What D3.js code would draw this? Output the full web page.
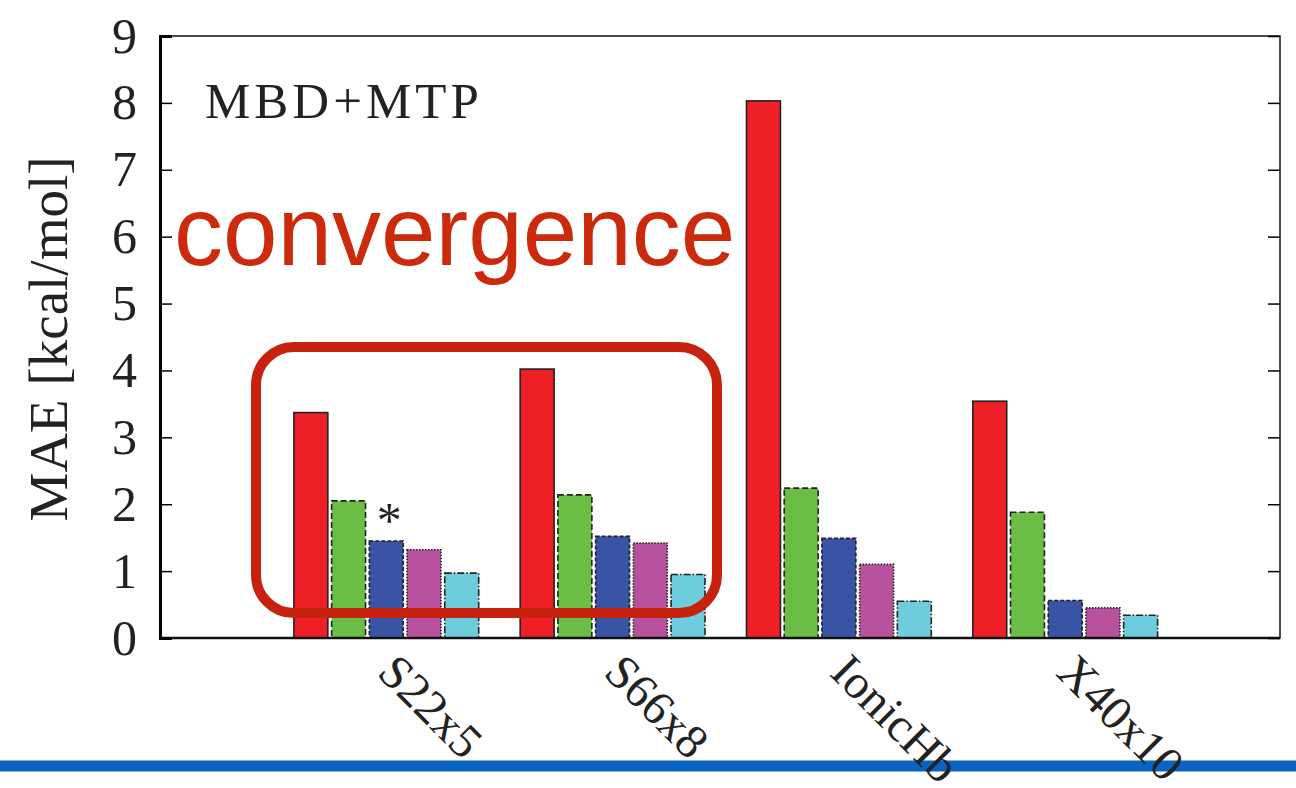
<!DOCTYPE html>
<html>
<head>
<meta charset="utf-8">
<script src="https://cdn.jsdelivr.net/npm/d3@7"></script>
<style>
  body { margin: 0; background: #fff; }
  svg { display: block; }
</style>
</head>
<body>
<div id="chart"></div>
<script>
// data
var categories = ["S22x5", "S66x8", "IonicHb", "X40x10"];
var seriesRed = [3.37, 4.02, 8.03, 3.54];
var seriesGreen = [2.05, 2.14, 2.24, 1.88];
var seriesBlue = [1.45, 1.52, 1.49, 0.56];
var seriesMagenta = [1.32, 1.42, 1.10, 0.45];
var seriesCyan = [0.97, 0.95, 0.55, 0.34];
var yTicks = [0, 1, 2, 3, 4, 5, 6, 7, 8, 9];

var seriesList = [
  { values: seriesRed, fill: "#ee1f26", dash: null },
  { values: seriesGreen, fill: "#6bbd45", dash: "6,3" },
  { values: seriesBlue, fill: "#3953a5", dash: "4,2" },
  { values: seriesMagenta, fill: "#b9529e", dash: "1.5,1.5" },
  { values: seriesCyan, fill: "#6dcddc", dash: "7,2,1.5,2" }
];

const W = 1296, H = 788;
const plot = { left: 160, right: 1280, top: 36, bottom: 638 };
const serif = "Liberation Serif, 'Times New Roman', serif";

const svg = d3.select("#chart").append("svg")
  .attr("width", W)
  .attr("height", H);

// slide decoration first: blue rule with soft shadow (labels run over it)
const defs = svg.append("defs");
defs.append("filter").attr("id", "blur")
  .attr("x", "-5%").attr("y", "-200%").attr("width", "110%").attr("height", "500%")
  .append("feGaussianBlur").attr("stdDeviation", 4);

svg.append("line")
  .attr("x1", 0).attr("x2", W)
  .attr("y1", 775).attr("y2", 775)
  .attr("stroke", "#888")
  .attr("stroke-width", 8)
  .attr("filter", "url(#blur)");

svg.append("line")
  .attr("x1", 0).attr("x2", W)
  .attr("y1", 766).attr("y2", 766)
  .attr("stroke", "#0a63c2")
  .attr("stroke-width", 11);

// scales
const y = d3.scaleLinear().domain([0, 9]).range([plot.bottom, plot.top]);

// each group = 5 bars + 1 empty slot
const groupStep = 226.3;
const x0 = d3.scaleBand()
  .domain(categories)
  .range([292, 292 + groupStep * categories.length])
  .padding(0);

const x1 = d3.scaleBand()
  .domain(d3.range(seriesList.length))
  .range([0, groupStep * 5 / 6])
  .paddingInner(0.1)
  .paddingOuter(0.05);

// bars
const groups = svg.append("g").selectAll("g")
  .data(seriesList)
  .join("g");

groups.selectAll("rect")
  .data((s, si) => s.values.map((v, ci) => ({ v: v, c: categories[ci], s: s, si: si })))
  .join("rect")
  .attr("x", d => x0(d.c) + x1(d.si))
  .attr("y", d => y(d.v))
  .attr("width", x1.bandwidth())
  .attr("height", d => y(0) - y(d.v))
  .attr("fill", d => d.s.fill)
  .attr("stroke", "#222")
  .attr("stroke-width", 1.6)
  .attr("stroke-dasharray", d => d.s.dash);

// frame
svg.append("rect")
  .attr("x", plot.left)
  .attr("y", plot.top)
  .attr("width", plot.right - plot.left)
  .attr("height", plot.bottom - plot.top)
  .attr("fill", "none")
  .attr("stroke", "#111")
  .attr("stroke-width", 1.5);

svg.append("line")
  .attr("x1", plot.left).attr("x2", plot.right)
  .attr("y1", plot.bottom).attr("y2", plot.bottom)
  .attr("stroke", "#111").attr("stroke-width", 2.5);

// y axis with inward ticks
const yAxis = d3.axisLeft(y).tickValues(yTicks).tickSize(-12).tickPadding(23);
const yAxisG = svg.append("g")
  .attr("transform", `translate(${plot.left},0)`)
  .call(yAxis);
yAxisG.select(".domain").attr("stroke-width", 3);
yAxisG.selectAll(".tick line").attr("stroke-width", 1.5);
yAxisG.selectAll("text")
  .attr("font-family", serif)
  .attr("font-size", 50)
  .attr("fill", "#222");

// mirrored ticks on the right
const yAxisR = d3.axisRight(y).tickValues(yTicks).tickSize(-12).tickFormat("");
const yAxisRG = svg.append("g")
  .attr("transform", `translate(${plot.right},0)`)
  .call(yAxisR);
yAxisRG.select(".domain").remove();
yAxisRG.selectAll(".tick line").attr("stroke-width", 1.5);

// x labels rotated
svg.append("g").selectAll("text")
  .data(categories)
  .join("text")
  .attr("transform", d => `translate(${x0(d) + groupStep * 5 / 12 + 14},650) rotate(45)`)
  .attr("dy", "0.72em")
  .attr("text-anchor", "start")
  .attr("font-family", serif)
  .attr("font-size", 48)
  .attr("fill", "#222")
  .text(d => d);

// y label
svg.append("text")
  .attr("transform", "translate(67,339) rotate(-90)")
  .attr("text-anchor", "middle")
  .attr("font-family", serif)
  .attr("font-size", 55)
  .attr("fill", "#222")
  .text("MAE [kcal/mol]");

// inner label
svg.append("text")
  .attr("x", 205)
  .attr("y", 118)
  .attr("font-family", serif)
  .attr("font-size", 51)
  .attr("letter-spacing", 4)
  .attr("fill", "#222")
  .text("MBD+MTP");

// asterisk over the blue bar of S22x5
svg.append("text")
  .attr("x", x0("S22x5") + x1(2) + x1.bandwidth() / 2 + 3)
  .attr("y", y(seriesBlue[0]) - 4)
  .attr("text-anchor", "middle")
  .attr("font-family", serif)
  .attr("font-size", 50)
  .attr("fill", "#222")
  .text("*");

// hand-drawn style annotations
svg.append("rect")
  .attr("x", 256)
  .attr("y", 347)
  .attr("width", 461)
  .attr("height", 266)
  .attr("rx", 38)
  .attr("fill", "none")
  .attr("stroke", "#c6220d")
  .attr("stroke-width", 10);

svg.append("text")
  .attr("x", 174)
  .attr("y", 265)
  .attr("font-family", "Liberation Sans, Arial, sans-serif")
  .attr("font-size", 98)
  .attr("fill", "#cc2a0c")
  .text("convergence");
</script>
</body>
</html>
